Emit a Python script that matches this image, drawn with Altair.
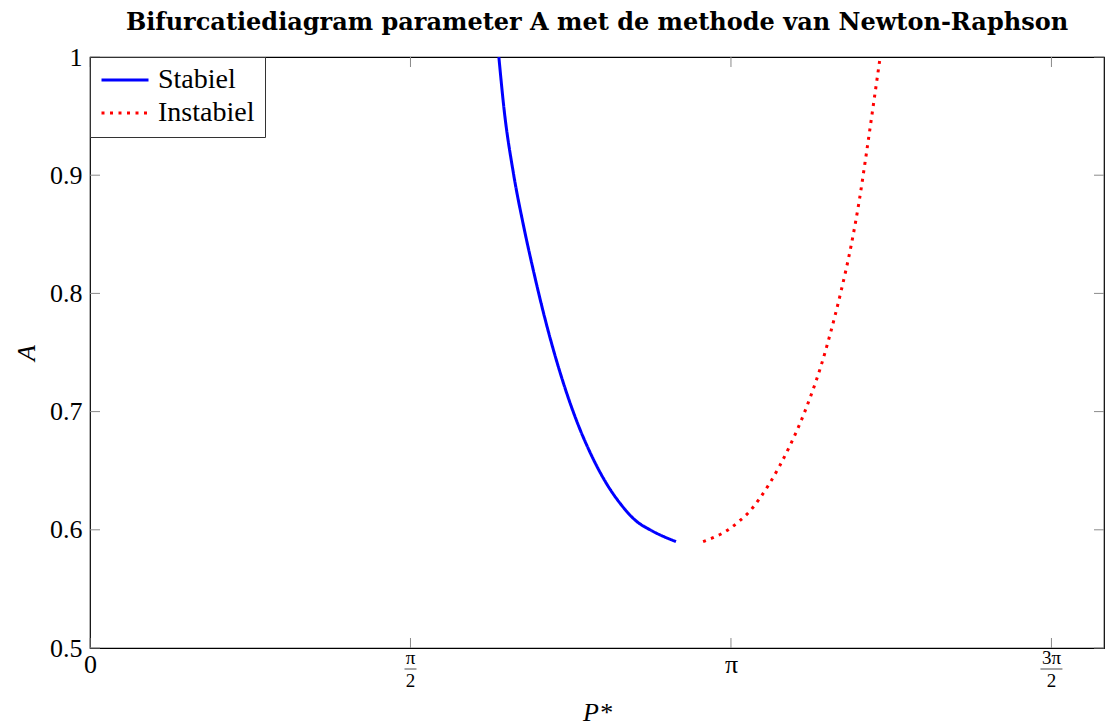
import math
import altair as alt
import pandas as pd

# ---- data ----
stable_x = [2.004, 2.030, 2.075, 2.124, 2.175, 2.225, 2.275, 2.330, 2.390, 2.455, 2.525, 2.600,
            2.680, 2.745, 2.872]
stable_y = [1.000, 0.955, 0.902, 0.858, 0.818, 0.782, 0.750, 0.719, 0.690, 0.664, 0.641, 0.622,
            0.607, 0.600, 0.590]
unstable_x = [3.005, 3.136, 3.180, 3.230, 3.280, 3.330, 3.380, 3.430, 3.480, 3.530, 3.580,
              3.630, 3.680, 3.730, 3.770, 3.805, 3.840, 3.873]
unstable_y = [0.590, 0.601, 0.607, 0.615, 0.626, 0.639, 0.654, 0.671, 0.690, 0.712, 0.737,
              0.767, 0.801, 0.840, 0.878, 0.918, 0.960, 1.000]
series = ["Stabiel", "Instabiel"]
colors = ["#0000ff", "#ff0000"]
dashes = [[1, 0], [3, 5.5]]

x_ticks = [0, math.pi / 2, math.pi, 3 * math.pi / 2]
frac_vals = [math.pi / 2, 3 * math.pi / 2]
frac_num = ["π", "3π"]
frac_den = ["2", "2"]
y_ticks = [0.5, 0.6, 0.7, 0.8, 0.9, 1.0]

X_MAX = 4.97
W, H = 1014, 591
FONT = "Liberation Serif"

src = pd.DataFrame({
    "P": stable_x + unstable_x,
    "A": stable_y + unstable_y,
    "reeks": ["Stabiel"] * len(stable_x) + ["Instabiel"] * len(unstable_x),
    "i": list(range(len(stable_x))) + list(range(len(unstable_x))),
})
xt = pd.DataFrame({"t": x_ticks})
yt = pd.DataFrame({"t": y_ticks})
fr = pd.DataFrame({"v": frac_vals, "num": frac_num, "den": frac_den})

xs = alt.Scale(domain=[0, X_MAX], nice=False, zero=False)
ys = alt.Scale(domain=[0.5, 1.0], nice=False, zero=False)

x_axis = alt.Axis(
    values=x_ticks, title="P*", titleFont=FONT, titleFontSize=26, titleFontStyle="italic",
    titleFontWeight="normal", titleColor="black", titlePadding=22,
    labelExpr="datum.value == 0 ? '0' : (abs(datum.value - 3.14159) < 0.01 ? 'π' : '')",
    labelFont=FONT, labelFontSize=26, labelColor="black", labelPadding=3,
    ticks=False, domain=False, grid=False, labelFlush=False,
)
y_axis = alt.Axis(
    values=y_ticks, title="A", titleFont=FONT, titleFontSize=26, titleFontStyle="italic",
    titleFontWeight="normal", titleColor="black", titlePadding=10,
    labelExpr="datum.value == 1 ? '1' : format(datum.value, '.1f')",
    labelFont=FONT, labelFontSize=26, labelColor="black", labelPadding=8,
    ticks=False, domain=False, grid=False, labelFlush=False,
)

legend = alt.Legend(
    title=None, orient="top-left", offset=0, symbolType="stroke",
    symbolStrokeWidth=3, symbolSize=2209, clipHeight=26,
    labelFont=FONT, labelFontSize=28, labelColor="black", labelOffset=8,
    padding=10, rowPadding=5,
    strokeColor="#333333", fillColor="white", cornerRadius=0,
)

lines = alt.Chart(src).mark_line(strokeWidth=3, strokeCap="butt", clip=True,
                                 interpolate="monotone").encode(
    x=alt.X("P:Q", scale=xs, axis=x_axis),
    y=alt.Y("A:Q", scale=ys, axis=y_axis),
    color=alt.Color("reeks:N", scale=alt.Scale(domain=series, range=colors), legend=legend),
    strokeDash=alt.StrokeDash("reeks:N", scale=alt.Scale(domain=series, range=dashes), legend=legend),
    order=alt.Order("i:Q"),
)

tick_color = "#8a8a8a"
tb = alt.Chart(xt).mark_rule(color=tick_color, strokeWidth=1).encode(
    x=alt.X("t:Q", scale=xs, axis=x_axis), y=alt.value(H), y2=alt.value(H - 10))
tt = alt.Chart(xt).mark_rule(color=tick_color, strokeWidth=1).encode(
    x=alt.X("t:Q", scale=xs, axis=x_axis), y=alt.value(0), y2=alt.value(10))
tl = alt.Chart(yt).mark_rule(color=tick_color, strokeWidth=1).encode(
    y=alt.Y("t:Q", scale=ys, axis=y_axis), x=alt.value(0), x2=alt.value(10))
tr = alt.Chart(yt).mark_rule(color=tick_color, strokeWidth=1).encode(
    y=alt.Y("t:Q", scale=ys, axis=y_axis), x=alt.value(W - 10), x2=alt.value(W))

num = alt.Chart(fr).mark_text(font=FONT, fontSize=19, baseline="alphabetic", color="black").encode(
    x=alt.X("v:Q", scale=xs, axis=x_axis), y=alt.value(H + 16), text="num:N")
den = alt.Chart(fr).mark_text(font=FONT, fontSize=19, baseline="alphabetic", color="black").encode(
    x=alt.X("v:Q", scale=xs, axis=x_axis), y=alt.value(H + 39), text="den:N")
bar = alt.Chart(fr).transform_calculate(w="length(datum.num) > 1 ? 22 : 12").mark_tick(
    orient="horizontal", thickness=1, color="black").encode(
    x=alt.X("v:Q", scale=xs, axis=x_axis), y=alt.value(H + 21),
    size=alt.Size("w:Q", scale=None, legend=None))

chart = alt.layer(lines, tb, tt, tl, tr, num, den, bar).properties(
    width=W, height=H,
    title=alt.TitleParams(
        "Bifurcatiediagram parameter A met de methode van Newton-Raphson",
        font="DejaVu Serif", fontSize=24, fontWeight="bold", color="black", anchor="middle", offset=9,
    ),
    autosize=alt.AutoSizeParams(type="none"),
    padding={"left": 90, "top": 57, "right": 1, "bottom": 79},
    background="white",
).configure_view(stroke="black", strokeWidth=1.2)

chart.save("out.html", embed_options={"renderer": "svg", "actions": False})
